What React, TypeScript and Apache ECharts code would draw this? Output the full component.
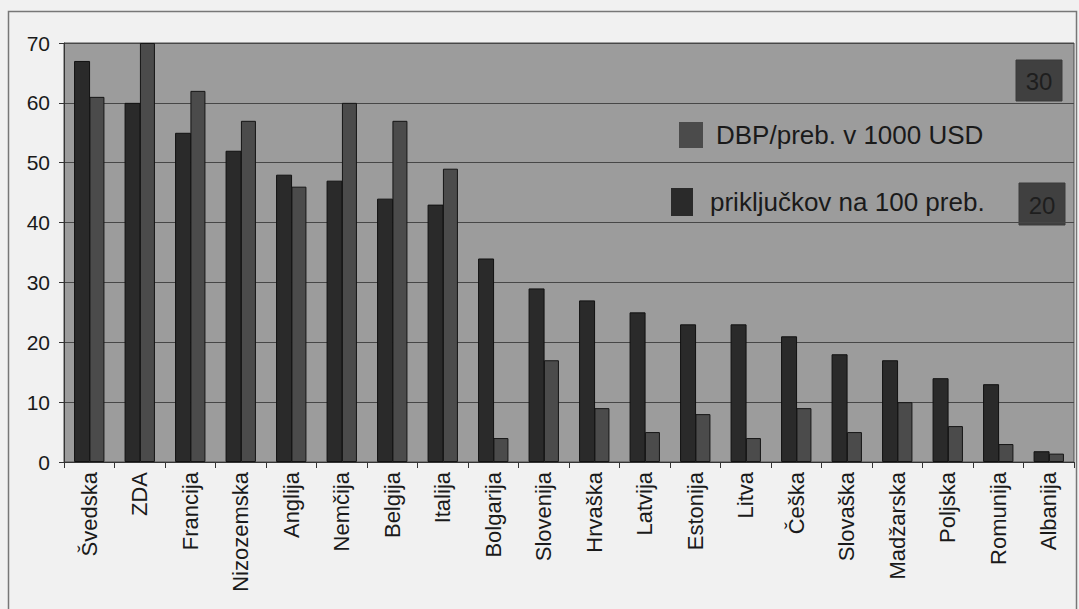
import React, { useEffect, useRef } from "react";
import * as echarts from "echarts";

// Countries along the x axis
const countries = [
  "Švedska", "ZDA", "Francija", "Nizozemska", "Anglija", "Nemčija", "Belgija",
  "Italija", "Bolgarija", "Slovenija", "Hrvaška", "Latvija", "Estonija", "Litva",
  "Češka", "Slovaška", "Madžarska", "Poljska", "Romunija", "Albanija",
];

// Telephone connections per 100 inhabitants
const prikljucki = [67, 60, 55, 52, 48, 47, 44, 43, 34, 29, 27, 25, 23, 23, 21, 18, 17, 14, 13, 1.8];

// GDP per inhabitant, thousand USD
const dbp = [61, 70, 62, 57, 46, 60, 57, 49, 4, 17, 9, 5, 8, 4, 9, 5, 10, 6, 3, 1.4];

const yTicks = { min: 0, max: 70, interval: 10 };

const NAME_PRIK = "priključkov na 100 preb.";
const NAME_DBP = "DBP/preb. v 1000 USD";

// Stray value tags in the right margin of the plot
const tags = ["30", "20"];

export default function App() {
  const ref = useRef<HTMLDivElement>(null);

  useEffect(() => {
    if (!ref.current) return;
    const chart = echarts.init(ref.current, null, { renderer: "svg" });
    const font = "'Liberation Sans', Arial, sans-serif";

    chart.setOption({
      animation: false,
      backgroundColor: "#f1f1f1",
      textStyle: { fontFamily: font },
      grid: {
        left: 64,
        top: 43,
        right: 5,
        bottom: 147,
        show: true,
        backgroundColor: "#9c9c9c",
        borderColor: "#4a4a4a",
        borderWidth: 1,
      },
      legend: [
        {
          data: [NAME_DBP],
          left: 674,
          top: 117,
          itemWidth: 24,
          itemHeight: 26,
          icon: "rect",
          textStyle: { fontSize: 26, color: "#1a1a1a", fontFamily: font, padding: [0, 0, 0, 8] },
          itemStyle: { borderWidth: 0 },
        },
        {
          data: [NAME_PRIK],
          left: 666,
          top: 183,
          itemWidth: 22,
          itemHeight: 28,
          icon: "rect",
          textStyle: { fontSize: 26, color: "#1a1a1a", fontFamily: font, padding: [0, 0, 0, 12] },
          itemStyle: { borderWidth: 0 },
        },
      ],
      xAxis: {
        type: "category",
        data: countries,
        axisLine: { lineStyle: { color: "#333", width: 1 } },
        axisTick: { show: true, length: 6, lineStyle: { color: "#333" } },
        axisLabel: {
          rotate: 90,
          fontSize: 22,
          color: "#1a1a1a",
          margin: 10,
          fontFamily: font,
        },
      },
      yAxis: {
        type: "value",
        min: yTicks.min,
        max: yTicks.max,
        interval: yTicks.interval,
        axisLine: { show: true, lineStyle: { color: "#333", width: 1 } },
        axisTick: { show: true, length: 5, lineStyle: { color: "#333" } },
        axisLabel: { fontSize: 21, color: "#1a1a1a", margin: 14, fontFamily: font },
        splitLine: { lineStyle: { color: "#474747", width: 1 } },
      },
      series: [
        {
          name: NAME_PRIK,
          type: "bar",
          data: prikljucki,
          barWidth: 16,
          barGap: "-4%",
          itemStyle: { color: "#2a2a2a", borderColor: "#111", borderWidth: 1 },
        },
        {
          name: NAME_DBP,
          type: "bar",
          data: dbp,
          barWidth: 15,
          itemStyle: { color: "#4b4b4b", borderColor: "#151515", borderWidth: 1 },
        },
      ],
      graphic: [
        {
          type: "rect",
          silent: true,
          shape: { x: 8.5, y: 11.5, width: 1068, height: 620 },
          style: { fill: "none", stroke: "#777", lineWidth: 1.5 },
          z: 100,
        },
        {
          type: "group",
          children: [
            {
              type: "rect",
              shape: { x: 1016, y: 60, width: 46, height: 41 },
              style: { fill: "#404040", stroke: "#3a3a3a" },
            },
            {
              type: "text",
              x: 1039,
              y: 81,
              style: {
                text: tags[0],
                fill: "#1e1e1e",
                font: `24px ${font}`,
                align: "center",
                verticalAlign: "middle",
              },
            },
            {
              type: "rect",
              shape: { x: 1019, y: 183, width: 46, height: 42 },
              style: { fill: "#404040", stroke: "#3a3a3a" },
            },
            {
              type: "text",
              x: 1042,
              y: 205,
              style: {
                text: tags[1],
                fill: "#1e1e1e",
                font: `24px ${font}`,
                align: "center",
                verticalAlign: "middle",
              },
            },
          ],
        },
      ],
    });

    return () => chart.dispose();
  }, []);

  return (
    <div
      ref={ref}
      style={{ position: "fixed", left: 0, top: 0, width: 1079, height: 609 }}
    />
  );
}
